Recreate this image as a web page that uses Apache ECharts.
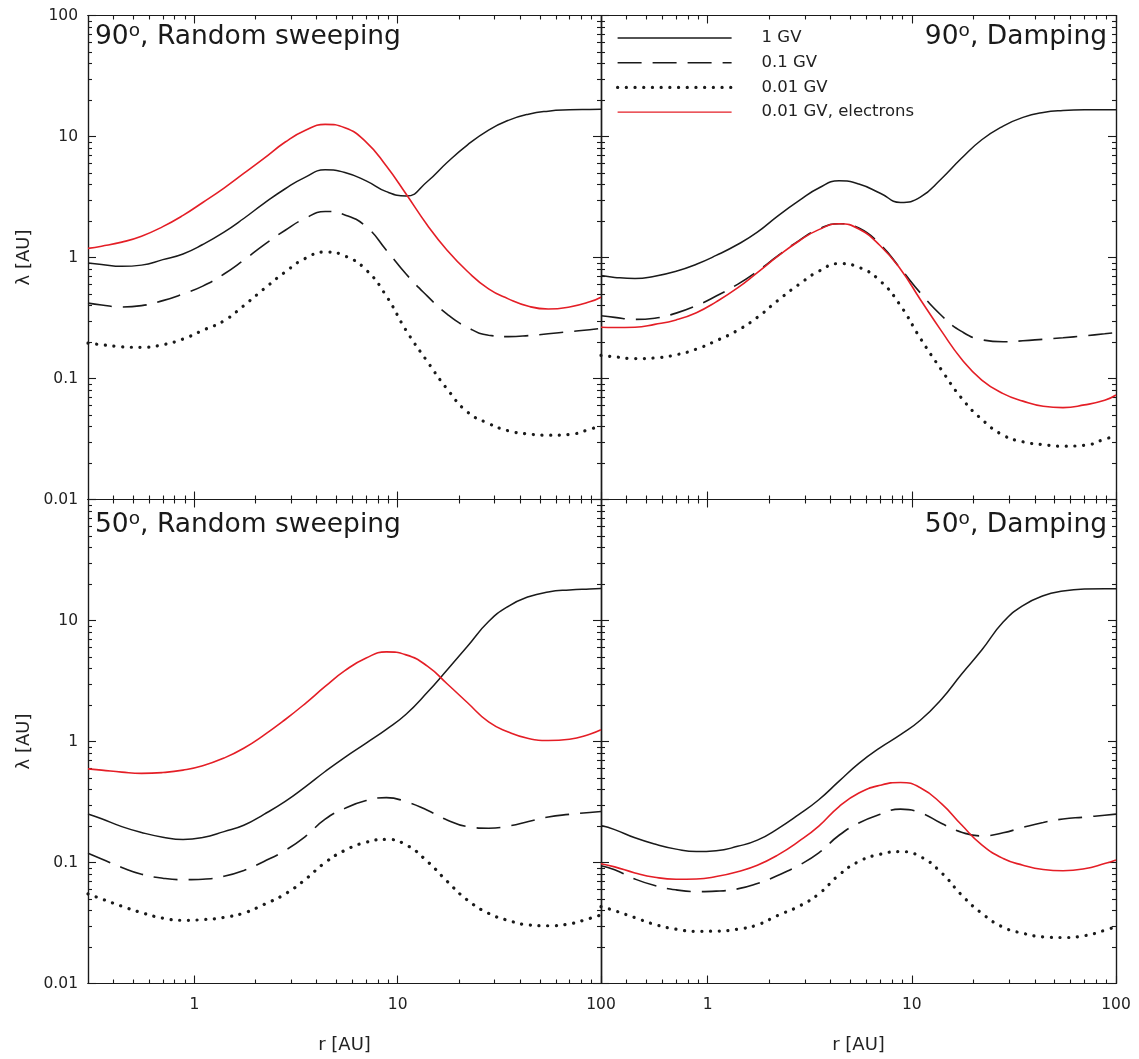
<!DOCTYPE html>
<html>
<head>
<meta charset="utf-8">
<title>Mean free path vs radial distance</title>
<script src="https://cdn.jsdelivr.net/npm/echarts@6/dist/echarts.min.js"></script>
<style>
  html, body { margin: 0; padding: 0; background: #fff; }
  #chart { width: 1139px; height: 1059px; }
</style>
</head>
<body>
<div id="chart"></div>
<script>
'use strict';
// ---- data --------------------------------------------------------------- //
// radial distance r [AU], about 0.1 decade apart, shared by every curve
const R = [0.3, 0.35, 0.44, 0.55, 0.7, 0.88, 1.1, 1.4, 1.75, 2.2, 2.8, 3.5, 4.4, 5.5, 7, 8.8, 11, 14, 17.5, 22, 28, 35, 44, 55, 70, 88, 100];

// 90 deg, random sweeping : lambda [AU]
const rs90_1GV   = [0.90, 0.875, 0.845, 0.865, 0.96, 1.07, 1.28, 1.62, 2.1, 2.8, 3.7, 4.6, 5.3, 5.05, 4.3, 3.5, 3.22, 4.25, 6.1, 8.5, 11.3, 13.6, 15.3, 16.2, 16.6, 16.75, 16.8];
const rs90_01GV  = [0.42, 0.405, 0.39, 0.40, 0.44, 0.50, 0.58, 0.73, 0.95, 1.27, 1.68, 2.1, 2.4, 2.25, 1.8, 1.15, 0.73, 0.48, 0.34, 0.265, 0.228, 0.222, 0.226, 0.234, 0.244, 0.253, 0.26];
const rs90_001GV = [0.196, 0.19, 0.183, 0.181, 0.19, 0.212, 0.25, 0.30, 0.40, 0.55, 0.76, 0.98, 1.11, 1.03, 0.79, 0.48, 0.25, 0.138, 0.082, 0.053, 0.0425, 0.037, 0.0348, 0.034, 0.0345, 0.038, 0.041];
const rs90_el    = [1.19, 1.24, 1.34, 1.5, 1.80, 2.23, 2.85, 3.75, 4.95, 6.6, 9.0, 11.2, 12.6, 11.8, 9.0, 5.7, 3.35, 1.85, 1.15, 0.77, 0.55, 0.455, 0.395, 0.375, 0.39, 0.43, 0.47];

// 90 deg, damping
const dm90_1GV   = [0.71, 0.685, 0.67, 0.70, 0.77, 0.88, 1.04, 1.28, 1.62, 2.2, 2.95, 3.75, 4.3, 4.05, 3.4, 2.85, 3.15, 4.5, 6.6, 9.4, 12.2, 14.4, 15.8, 16.4, 16.6, 16.6, 16.6];
const dm90_01GV  = [0.33, 0.32, 0.308, 0.315, 0.347, 0.40, 0.48, 0.60, 0.77, 1.03, 1.38, 1.72, 1.9, 1.75, 1.28, 0.81, 0.51, 0.33, 0.245, 0.209, 0.201, 0.205, 0.211, 0.217, 0.225, 0.234, 0.24];
const dm90_001GV = [0.155, 0.151, 0.146, 0.148, 0.157, 0.175, 0.205, 0.25, 0.32, 0.44, 0.60, 0.77, 0.89, 0.83, 0.64, 0.40, 0.215, 0.117, 0.069, 0.046, 0.034, 0.030, 0.0284, 0.0276, 0.028, 0.0315, 0.0336];
const dm90_el    = [0.265, 0.264, 0.265, 0.28, 0.305, 0.35, 0.43, 0.56, 0.75, 1.02, 1.37, 1.7, 1.9, 1.72, 1.25, 0.80, 0.45, 0.245, 0.145, 0.097, 0.075, 0.065, 0.059, 0.0575, 0.0605, 0.066, 0.073];

// 50 deg, random sweeping
const rs50_1GV   = [0.252, 0.23, 0.198, 0.177, 0.162, 0.155, 0.161, 0.18, 0.203, 0.25, 0.32, 0.42, 0.565, 0.74, 0.97, 1.26, 1.68, 2.55, 3.9, 6.1, 9.8, 13.1, 15.7, 17.2, 17.9, 18.25, 18.4];
const rs50_01GV  = [0.119, 0.107, 0.091, 0.08, 0.0742, 0.0722, 0.0728, 0.077, 0.086, 0.102, 0.126, 0.163, 0.228, 0.28, 0.325, 0.344, 0.318, 0.27, 0.225, 0.198, 0.192, 0.2, 0.218, 0.238, 0.25, 0.259, 0.264];
const rs50_001GV = [0.055, 0.05, 0.0435, 0.0385, 0.0347, 0.0333, 0.0337, 0.0352, 0.0382, 0.045, 0.055, 0.072, 0.10, 0.126, 0.147, 0.155, 0.14, 0.102, 0.07, 0.049, 0.038, 0.0332, 0.0305, 0.030, 0.0311, 0.0345, 0.0369];
const rs50_el    = [0.594, 0.58, 0.558, 0.545, 0.554, 0.58, 0.63, 0.73, 0.88, 1.13, 1.52, 2.05, 2.85, 3.85, 4.9, 5.5, 5.2, 4.2, 3.0, 2.1, 1.45, 1.2, 1.06, 1.02, 1.045, 1.15, 1.25];

// 50 deg, damping
const dm50_1GV   = [0.202, 0.187, 0.16, 0.142, 0.129, 0.123, 0.125, 0.136, 0.153, 0.19, 0.25, 0.33, 0.47, 0.66, 0.89, 1.14, 1.5, 2.25, 3.6, 5.7, 9.7, 13.3, 16.0, 17.5, 18.2, 18.3, 18.3];
const dm50_01GV  = [0.094, 0.087, 0.073, 0.0645, 0.0594, 0.0575, 0.058, 0.0605, 0.067, 0.078, 0.095, 0.12, 0.168, 0.212, 0.25, 0.276, 0.258, 0.21, 0.178, 0.166, 0.176, 0.195, 0.214, 0.229, 0.237, 0.246, 0.251];
const dm50_001GV = [0.0432, 0.040, 0.035, 0.0308, 0.0281, 0.027, 0.0271, 0.0281, 0.0305, 0.0365, 0.0435, 0.055, 0.079, 0.102, 0.117, 0.123, 0.112, 0.082, 0.054, 0.038, 0.0292, 0.026, 0.0243, 0.024, 0.0248, 0.0275, 0.0296];
const dm50_el    = [0.0975, 0.092, 0.082, 0.0755, 0.0728, 0.0731, 0.0765, 0.084, 0.095, 0.115, 0.15, 0.2, 0.29, 0.375, 0.435, 0.458, 0.415, 0.305, 0.205, 0.14, 0.108, 0.095, 0.0875, 0.0855, 0.0887, 0.098, 0.105];

const SERIES_NAMES = ['1 GV', '0.1 GV', '0.01 GV', '0.01 GV, electrons'];

// tick positions
const X_MAJOR = [1, 10, 100];
const X_MINOR = [0.4, 0.5, 0.6, 0.7, 0.8, 0.9, 2, 3, 4, 5, 6, 7, 8, 9, 20, 30, 40, 50, 60, 70, 80, 90];
const Y_MAJOR = [0.01, 0.1, 1, 10, 100];
const Y_MINOR = [0.02, 0.03, 0.04, 0.05, 0.06, 0.07, 0.08, 0.09, 0.2, 0.3, 0.4, 0.5, 0.6, 0.7, 0.8, 0.9,
                 2, 3, 4, 5, 6, 7, 8, 9, 20, 30, 40, 50, 60, 70, 80, 90];
const X_LABELS = [1, 10, 100];
const Y_LABELS_TOP = [0.01, 0.1, 1, 10, 100];
const Y_LABELS_BOTTOM = [0.01, 0.1, 1, 10];

// ---- layout / style ------------------------------------------------------ //
const FONT = 'DejaVu Sans';
const INK = '#1a1a1a';
const PANELS = [
  { grid: { left: 88, top: 15.5, width: 513, height: 484 }, title: ', Random sweeping', deg: '90', side: 'left',  titleTop: 22,
    curves: [rs90_1GV, rs90_01GV, rs90_001GV, rs90_el], bottom: false, leftCol: true },
  { grid: { left: 601, top: 15.5, width: 515, height: 484 }, title: ', Damping', deg: '90', side: 'right', titleTop: 22,
    curves: [dm90_1GV, dm90_01GV, dm90_001GV, dm90_el], bottom: false, leftCol: false },
  { grid: { left: 88, top: 499.5, width: 513, height: 484 }, title: ', Random sweeping', deg: '50', side: 'left', titleTop: 510,
    curves: [rs50_1GV, rs50_01GV, rs50_001GV, rs50_el], bottom: true, leftCol: true },
  { grid: { left: 601, top: 499.5, width: 515, height: 484 }, title: ', Damping', deg: '50', side: 'right', titleTop: 510,
    curves: [dm50_1GV, dm50_01GV, dm50_001GV, dm50_el], bottom: true, leftCol: false },
];
const LINE_STYLES = [
  { color: INK, width: 1.5, type: 'solid' },
  { color: INK, width: 1.6, type: [24, 11] },
  { color: INK, width: 3.2, type: [0.1, 8.6], cap: 'round' },
  { color: '#e41e26', width: 1.6, type: 'solid' },
];

const fmt = (v) => String(+(+v).toPrecision(3));
const axisLine = { show: true, onZero: false, lineStyle: { color: INK, width: 1.2 } };
const labelStyle = { color: '#222', fontFamily: FONT, fontSize: 15.5 };

function xAxisFor(g, pos, major, p) {
  const showLabel = major && pos === 'bottom' && p.bottom;
  return {
    gridIndex: g, type: 'log', logBase: 10, min: 0.3, max: 100, position: pos,
    axisLine: axisLine, splitLine: { show: false }, minorTick: { show: false },
    axisTick: { show: true, inside: true, length: major ? 8 : 4, customValues: major ? X_MAJOR : X_MINOR, lineStyle: { color: INK, width: 1.1 } },
    axisLabel: showLabel ? { show: true, customValues: X_LABELS, margin: 13, formatter: fmt, ...labelStyle } : { show: false },
    name: showLabel ? 'r [AU]' : '', nameLocation: 'middle', nameGap: 53,
    nameTextStyle: { color: '#222', fontFamily: FONT, fontSize: 18 },
  };
}
function yAxisFor(g, pos, major, p) {
  const showLabel = major && pos === 'left' && p.leftCol;
  return {
    gridIndex: g, type: 'log', logBase: 10, min: 0.01, max: 100, position: pos,
    axisLine: axisLine, splitLine: { show: false }, minorTick: { show: false },
    axisTick: { show: true, inside: true, length: major ? 8 : 4, customValues: major ? Y_MAJOR : Y_MINOR, lineStyle: { color: INK, width: 1.1 } },
    axisLabel: showLabel ? { show: true, customValues: p.bottom ? Y_LABELS_BOTTOM : Y_LABELS_TOP, margin: 10, formatter: fmt, ...labelStyle } : { show: false },
    name: showLabel ? 'λ [AU]' : '', nameLocation: 'middle', nameGap: 55, nameRotate: 90,
    nameTextStyle: { color: '#222', fontFamily: FONT, fontSize: 18 },
  };
}

const grids = [], xAxes = [], yAxes = [], series = [], titles = [];
PANELS.forEach((p, g) => {
  grids.push({ ...p.grid, containLabel: false, outerBoundsMode: 'none' });
  const xMain = xAxes.length;
  xAxes.push(xAxisFor(g, 'bottom', true, p), xAxisFor(g, 'bottom', false, p),
             xAxisFor(g, 'top', true, p), xAxisFor(g, 'top', false, p));
  const yMain = yAxes.length;
  yAxes.push(yAxisFor(g, 'left', true, p), yAxisFor(g, 'left', false, p),
             yAxisFor(g, 'right', true, p), yAxisFor(g, 'right', false, p));
  p.curves.forEach((vals, k) => {
    const ls = LINE_STYLES[k];
    series.push({
      type: 'line', name: SERIES_NAMES[k], xAxisIndex: xMain, yAxisIndex: yMain,
      data: R.map((r, i) => [r, vals[i]]),
      smooth: 0.5, symbol: 'none', showSymbol: false, color: ls.color,
      lineStyle: ls, itemStyle: { color: ls.color }, z: k === 3 ? 4 : 3,
    });
  });
  const t = {
    text: p.deg + '{o|o}' + p.title, top: p.titleTop, padding: 0,
    textStyle: {
      color: INK, fontFamily: FONT, fontSize: 26.5, fontWeight: 'normal', lineHeight: 30,
      rich: { o: { fontFamily: FONT, fontSize: 18.5, lineHeight: 16, verticalAlign: 'top', color: INK } },
    },
  };
  if (p.side === 'left') t.left = 95; else t.right = 32;
  titles.push(t);
});

// legend entries carry their own line look, and no marker dot
const legendData = SERIES_NAMES.map((name, k) => ({
  name: name,
  lineStyle: { ...LINE_STYLES[k], width: k === 2 ? 3.2 : 1.4, opacity: 1 },
  itemStyle: { color: 'rgba(0,0,0,0)', borderWidth: 0, opacity: 0 },
}));

const chart = echarts.init(document.getElementById('chart'), null, { renderer: 'canvas' });
chart.setOption({
  animation: false,
  backgroundColor: '#fff',
  title: titles,
  grid: grids,
  xAxis: xAxes,
  yAxis: yAxes,
  legend: {
    orient: 'vertical', left: 616, top: 29.5, padding: 0,
    itemWidth: 114, itemHeight: 14, itemGap: 7.7, selectedMode: false,
    data: legendData,
    textStyle: { color: '#222', fontFamily: FONT, fontSize: 16.5, lineHeight: 14, padding: [0, 0, 0, 25] },
  },
  series: series,
});
</script>
</body>
</html>
